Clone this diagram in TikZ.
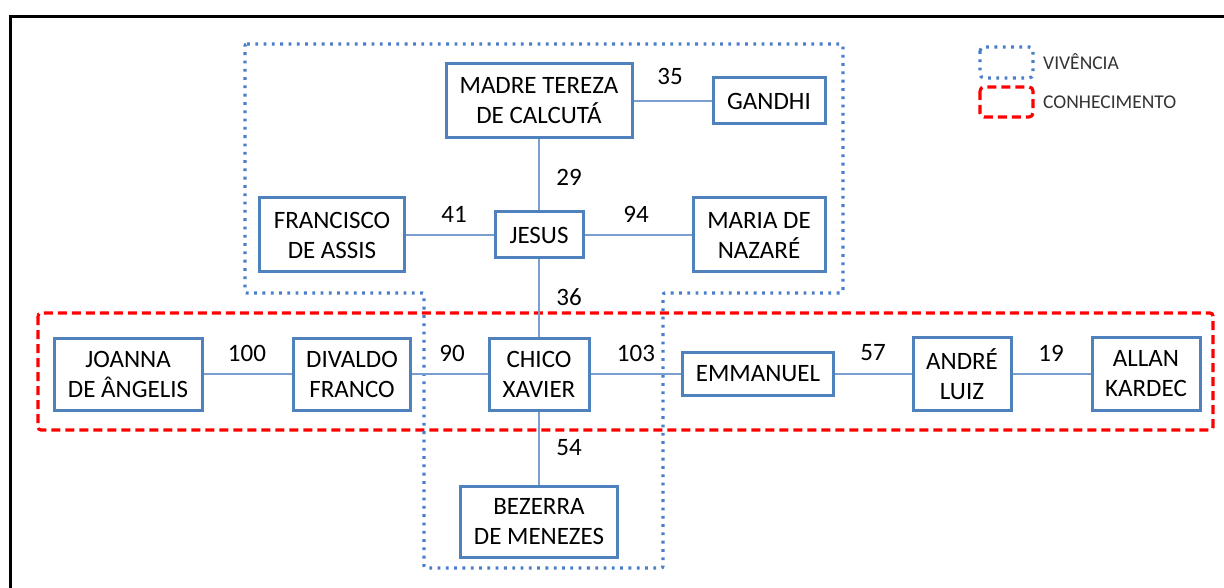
\documentclass[tikz,border=0pt]{standalone}
\usepackage{fontspec}
\setmainfont{Carlito}
\definecolor{boxblue}{HTML}{4F81BD}
\definecolor{linkblue}{HTML}{7A9FCF}
\definecolor{dotblue}{HTML}{4A7EC8}
\definecolor{dashred}{HTML}{FF0000}
\definecolor{legtext}{HTML}{333333}
\tikzset{
  person/.style={draw=boxblue, line width=3pt, fill=white, align=center, inner sep=0pt,
    text=black, font=\fontsize{25}{30}\selectfont},
  link/.style={draw=linkblue, line width=1.4pt},
  weight/.style={inner sep=0pt, text=black, font=\fontsize{25}{30}\selectfont},
  vivencia/.style={draw=dotblue, line width=3.2pt, dash pattern=on 2.8pt off 5.5pt, rounded corners=2pt},
  conhecimento/.style={draw=dashred, line width=3.2pt, dash pattern=on 9pt off 5pt, rounded corners=3pt},
  legendlabel/.style={anchor=west, inner sep=0pt, text=legtext, font=\fontsize{19.5}{22}\selectfont}
}
\begin{document}
\begin{tikzpicture}[x=1pt, y=-1pt]
\useasboundingbox (0,0) rectangle (1224,588);
% frame
\draw[line width=3pt, black] (10,588) -- (10,17) -- (1224,17);
% regions
\draw[conhecimento] (38,313) rectangle (1213,430);
\draw[vivencia] (245,44) -- (843,44) -- (843,293) -- (663,293) -- (663,568) -- (424,568) -- (424,293) -- (245,293) -- cycle;
% legend
\draw[vivencia, rounded corners=4pt] (980,47) rectangle (1033,78);
\node[legendlabel] (lv) at (1043,62) {VIVÊNCIA};
\draw[conhecimento, rounded corners=4pt] (980,87) rectangle (1033,117);
\node[legendlabel] (lc) at (1043,102) {CONHECIMENTO};
% nodes
\node[person, minimum width=186pt, minimum height=74pt] (madre) at (539,101) {MADRE TEREZA\\DE CALCUTÁ};
\node[person, minimum width=112pt, minimum height=46pt] (gandhi) at (769,101) {GANDHI};
\node[person, minimum width=145pt, minimum height=74pt] (francisco) at (332,235) {FRANCISCO\\DE ASSIS};
\node[person, minimum width=88pt, minimum height=46pt] (jesus) at (539,235) {JESUS};
\node[person, minimum width=132pt, minimum height=74pt] (maria) at (759,235) {MARIA DE\\NAZARÉ};
\node[person, minimum width=148pt, minimum height=72pt] (joanna) at (128,374) {JOANNA\\DE ÂNGELIS};
\node[person, minimum width=117pt, minimum height=72pt] (divaldo) at (352,374) {DIVALDO\\FRANCO};
\node[person, minimum width=100pt, minimum height=72pt] (chico) at (539,374) {CHICO\\XAVIER};
\node[person, minimum width=151pt, minimum height=43pt] (emmanuel) at (758,374) {EMMANUEL};
\node[person, minimum width=98pt, minimum height=73pt] (andre) at (962,374) {ANDRÉ\\LUIZ};
\node[person, minimum width=108pt, minimum height=73pt] (allan) at (1146,374) {ALLAN\\KARDEC};
\node[person, minimum width=157pt, minimum height=71pt] (bezerra) at (539,522) {BEZERRA\\DE MENEZES};
% links
\draw[link] (madre) -- (gandhi);
\draw[link] (madre) -- (jesus);
\draw[link] (francisco) -- (jesus);
\draw[link] (jesus) -- (maria);
\draw[link] (jesus) -- (chico);
\draw[link] (joanna) -- (divaldo);
\draw[link] (divaldo) -- (chico);
\draw[link] (chico) -- (emmanuel);
\draw[link] (emmanuel) -- (andre);
\draw[link] (andre) -- (allan);
\draw[link] (chico) -- (bezerra);
% weights
\node[weight] (w35) at (670,76) {35};
\node[weight] (w29) at (569,177) {29};
\node[weight] (w41) at (454,214) {41};
\node[weight] (w94) at (636,214) {94};
\node[weight] (w36) at (569,297) {36};
\node[weight] (w100) at (247,353) {100};
\node[weight] (w90) at (452,353) {90};
\node[weight] (w103) at (636,353) {103};
\node[weight] (w57) at (873,353) {57};
\node[weight] (w19) at (1051,353) {19};
\node[weight] (w54) at (569,448) {54};
\end{tikzpicture}
\end{document}
